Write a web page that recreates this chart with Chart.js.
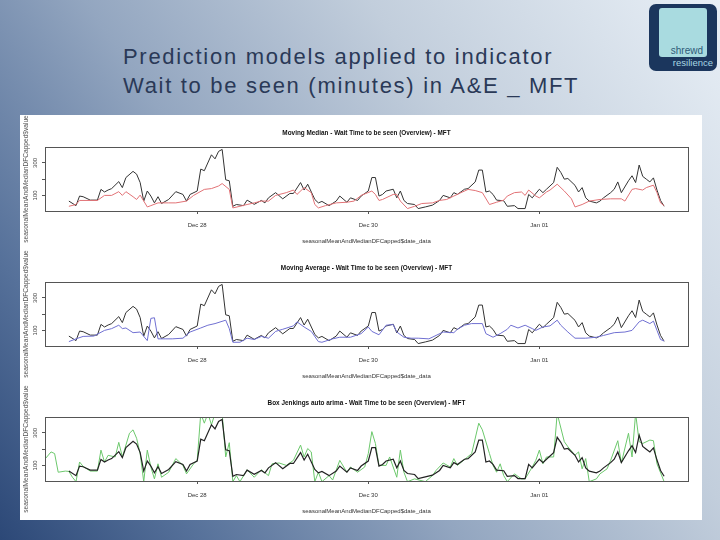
<!DOCTYPE html>
<html>
<head>
<meta charset="utf-8">
<script src="https://cdn.jsdelivr.net/npm/chart.js@4.4.1/dist/chart.umd.min.js"></script>
<style>
  html, body { margin:0; padding:0; }
  body {
    width:720px; height:540px; overflow:hidden; position:relative;
    background: linear-gradient(235deg, #e8eff6 0%, #c2cedc 32%, #93a6c0 58%, #56719a 82%, #2c4877 100%);
    font-family: "Liberation Sans", Arial, sans-serif;
  }
  #title {
    position:absolute; left:123px; top:42px; color:#2a3957;
    font-size:22px; line-height:29px; letter-spacing:1.7px; white-space:nowrap;
  }
  #panel { position:absolute; left:20px; top:115px; width:682px; height:405px; background:#ffffff; }
  #panel canvas { display:block; }
  #logo { position:absolute; left:649px; top:4px; width:68px; height:67px; background:#1b365d; border-radius:7px; }
  #logo .sq { position:absolute; left:10px; top:4px; width:48px; height:49px; background:#a9dbe0; border-radius:3px; }
  #logo .t1 { position:absolute; right:14px; top:41px; font-size:10px; color:#2f5a78; }
  #logo .t2 { position:absolute; right:4px; top:53px; font-size:9.5px; color:#a8d8e4; }
</style>
</head>
<body>
<div id="title">Prediction models applied to indicator<br>Wait to be seen (minutes) in A&amp;E _ MFT</div>
<div id="logo"><div class="sq"></div><div class="t1">shrewd</div><div class="t2">resilience</div></div>
<div id="panel">
  <canvas id="c1" width="682" height="135"></canvas>
  <canvas id="c2" width="682" height="135"></canvas>
  <canvas id="c3" width="682" height="135"></canvas>
</div>
<script>
// ---------- data (hours counted from Dec 26 00:00) ----------
const xTickHours = [48, 96, 144];
const xTickLabels = ["Dec 28", "Dec 30", "Jan 01"];
const yTickValues = [100, 200, 300];
const yLabelValues = [100, 300];

const panelTitles = [
  "Moving Median - Wait Time to be seen (Overview) - MFT",
  "Moving Average - Wait Time to be seen (Overview) - MFT",
  "Box Jenkings auto arima - Wait Time to be seen (Overview) - MFT"
];
const xAxisTitle = "seasonalMeanAndMedianDFCapped$date_data";
const yAxisTitle = "seasonalMeanAndMedianDFCapped$value";

const blackHours  = [12,14,15,16,18,20,21,22,23,24,26,27,28,30,31,32,33,34,35,36,37,38,40,42,44,45,46,48,49,50,52,53,54,55,56,57,58,59,61,62,64,66,67,68,70,72,74,75,77,78,79,81,82,83,85,87,88,90,91,93,94,96,97,98,99,100,101,103,104,105,106,107,109,110,112,114,116,117,119,120,121,123,124,126,127,128,129,130,131,132,134,135,137,138,140,141,142,144,145,146,148,149,150,151,152,154,155,156,157,158,160,161,162,164,165,166,167,169,170,171,172,173,174,175,176,177,178,179];
const blackValues = [65,37,96,92,71,71,137,121,133,142,185,148,210,248,231,179,65,127,96,54,92,50,75,123,106,65,106,127,262,252,350,325,371,383,196,190,33,44,37,71,45,69,54,85,117,79,112,112,179,133,169,75,54,63,37,65,96,58,85,69,96,127,210,210,96,106,127,138,85,127,69,50,44,19,29,40,69,100,85,117,106,138,142,183,256,256,121,127,106,71,67,33,37,19,19,106,85,138,117,138,179,273,242,200,204,162,121,148,85,65,54,65,85,117,138,183,117,190,221,179,287,217,200,183,208,133,69,33];

const medianHours  = [12,14,15,18,20,22,24,26,27,28,30,31,32,34,35,37,40,42,45,47,50,52,54,55,57,58,60,62,64,66,68,70,73,75,76,78,80,81,82,84,87,90,92,94,97,98,99,100,103,104,105,107,109,111,114,116,118,120,122,124,126,128,130,132,134,135,137,139,140,141,143,144,146,147,149,151,153,154,156,158,161,164,167,168,170,171,173,174,176,177,178,179];
const medianValues = [33,44,69,69,69,100,100,123,100,123,92,75,102,29,37,54,54,54,65,100,137,142,158,173,137,23,33,44,54,65,65,100,117,133,106,148,117,44,23,37,54,58,65,100,127,106,69,75,106,106,65,19,33,50,54,69,75,96,117,137,130,117,44,58,71,96,117,121,100,133,96,85,121,133,169,127,79,29,44,65,75,79,79,65,137,142,133,148,163,117,54,37];

const averageHours  = [12,14,16,19,22,24,26,27,28,30,32,34,35,36,37,39,41,44,46,49,51,53,56,57,58,60,62,64,66,68,70,72,75,76,78,80,82,83,86,88,91,94,96,97,99,101,103,104,106,108,110,113,115,117,120,121,123,125,128,129,131,133,135,136,138,140,142,143,145,147,149,150,152,154,157,160,162,165,168,170,172,173,175,176,177,178,179];
const averageValues = [31,48,63,65,100,111,132,111,115,86,90,37,174,178,48,48,48,52,90,115,132,142,163,111,27,27,52,44,63,52,94,107,128,153,121,94,31,27,48,58,58,80,121,94,73,132,136,90,58,52,52,48,69,90,86,107,132,142,142,80,58,80,107,132,115,132,111,100,121,128,163,132,90,52,52,58,69,86,90,100,153,163,142,157,100,44,35];

const arimaHours  = [5,7,8,9,11,12,13,14,15,16,18,20,21,22,23,25,26,27,29,30,31,32,33,34,35,36,37,38,40,42,44,45,47,48,49,50,51,52,53,55,56,57,58,59,60,62,64,66,68,69,71,73,75,77,78,79,80,81,82,83,85,86,88,90,91,93,95,96,97,98,99,101,102,104,105,106,107,109,112,114,115,117,119,120,121,123,125,127,128,130,131,132,133,134,135,137,139,140,142,143,144,145,146,148,149,151,152,154,155,156,157,158,160,161,163,164,166,167,169,170,171,172,173,175,176,177,179];
const arimaValues = [131,183,173,58,65,63,27,0,121,94,65,65,194,121,162,152,242,152,298,319,267,173,0,194,90,17,110,27,58,142,100,48,110,131,420,360,420,350,420,420,152,240,0,37,0,73,27,73,37,110,115,100,131,225,152,204,183,0,58,0,37,10,131,58,90,58,90,173,308,235,100,100,152,27,194,58,0,17,0,37,69,115,90,142,100,136,173,360,319,173,100,58,110,37,0,48,17,17,90,131,194,110,152,152,420,246,215,163,183,79,142,0,17,48,79,131,252,115,298,152,420,246,235,256,252,110,0];

// ---------- helpers ----------
function pts(hours, values) { return hours.map((h, i) => ({ x: h, y: values[i] })); }

const FONT = '"Liberation Sans", Arial, sans-serif';
Chart.defaults.font.family = FONT;

const rframe = {
  id: 'rframe',
  afterDraw(chart, args, opts) {
    const { ctx, chartArea: a } = chart;
    ctx.save();
    ctx.strokeStyle = '#555';
    ctx.lineWidth = 1;
    ctx.strokeRect(Math.round(a.left) + 0.5, Math.round(a.top) + 0.5,
                   Math.round(a.right - a.left), Math.round(a.bottom - a.top));
    ctx.fillStyle = '#111';
    ctx.font = 'bold 6.4px ' + FONT;
    ctx.textAlign = 'center';
    ctx.textBaseline = 'middle';
    ctx.fillText(opts.title, (a.left + a.right) / 2, opts.titleY);
    const ys = chart.scales.y;
    ctx.font = '6px ' + FONT;
    ctx.fillStyle = '#444';
    yLabelValues.forEach(v => {
      const py = ys.getPixelForValue(v);
      ctx.save();
      ctx.translate(a.left - 10, py);
      ctx.rotate(-Math.PI / 2);
      ctx.fillText(String(v), 0, 0);
      ctx.restore();
    });
    ctx.restore();
  }
};

function makeChart(id, title, datasets) {
  return new Chart(document.getElementById(id), {
    type: 'line',
    data: { datasets },
    plugins: [rframe],
    options: {
      responsive: false,
      animation: false,
      layout: { padding: { top: 32, right: 14, bottom: 0, left: 0 } },
      elements: { point: { radius: 0 }, line: { tension: 0, borderWidth: 1 } },
      plugins: {
        legend: { display: false },
        tooltip: { enabled: false },
        title: { display: false },
        rframe: { title: title, titleY: 18 }
      },
      scales: {
        x: {
          type: 'linear', min: 5.3, max: 185.7,
          afterBuildTicks: s => { s.ticks = xTickHours.map(v => ({ value: v })); },
          afterFit: s => { s.height = 39; },
          ticks: { autoSkip: false, maxRotation: 0, padding: 8, color: '#333', font: { size: 6 },
                   callback: (v, i) => xTickLabels[i] },
          grid: { display: true, drawOnChartArea: false, drawTicks: true, tickLength: 3, color: '#555' },
          border: { display: false },
          title: { display: true, text: xAxisTitle, color: '#333', font: { size: 6 }, padding: 5 }
        },
        y: {
          type: 'linear', min: 4, max: 398,
          afterBuildTicks: s => { s.ticks = yTickValues.map(v => ({ value: v })); },
          afterFit: s => { s.width = 25; },
          ticks: { callback: () => '', padding: 0 },
          grid: { display: true, drawOnChartArea: false, drawTicks: true, tickLength: 3, color: '#555' },
          border: { display: false },
          title: { display: true, text: yAxisTitle, color: '#555', font: { size: 6.6 }, padding: 2 }
        }
      }
    }
  });
}

makeChart('c1', panelTitles[0], [
  { data: pts(medianHours, medianValues), borderColor: '#e27276' },
  { data: pts(blackHours, blackValues), borderColor: '#333333' }
]);
makeChart('c2', panelTitles[1], [
  { data: pts(averageHours, averageValues), borderColor: '#7070d2' },
  { data: pts(blackHours, blackValues), borderColor: '#333333' }
]);
makeChart('c3', panelTitles[2], [
  { data: pts(blackHours, blackValues), borderColor: '#222222', borderWidth: 1.2 },
  { data: pts(arimaHours, arimaValues), borderColor: '#6cc86c' }
]);
</script>
</body>
</html>
